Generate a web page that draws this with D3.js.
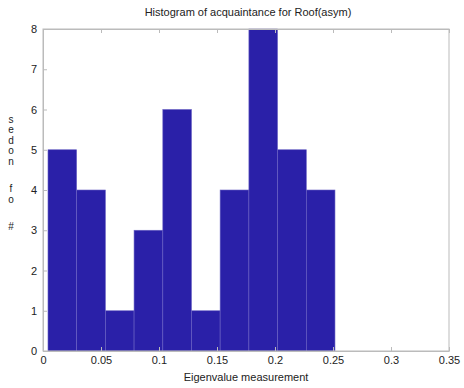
<!DOCTYPE html>
<html><head><meta charset="utf-8">
<script src="https://cdn.jsdelivr.net/npm/d3@7"></script>
<style>body{margin:0;background:#fff}svg{display:block}text{font-family:"Liberation Sans",Arial,sans-serif;fill:#222}</style>
</head><body><div id="c"></div>
<script>
const binEdges = [0.0043,0.0290,0.0538,0.0785,0.1033,0.1280,0.1527,0.1775,0.2022,0.2270,0.2517];
const counts = [5,4,1,3,6,1,4,8,5,4];
const xTicks = [0,0.05,0.1,0.15,0.2,0.25,0.3,0.35];
const xTickLabels = ["0","0.05","0.1","0.15","0.2","0.25","0.3","0.35"];
const yTicks = [0,1,2,3,4,5,6,7,8];
const title = "Histogram of acquaintance for Roof(asym)";
const xLabel = "Eigenvalue measurement";
const yLabel = "# of nodes";

const W=464,H=388;
const m={l:43,r:15,t:29,b:37};
const svg=d3.select("#c").append("svg").attr("width",W).attr("height",H);
const x=d3.scaleLinear().domain([0,0.35]).range([m.l,W-m.r]);
const y=d3.scaleLinear().domain([0,8]).range([H-m.b,m.t]);

const bars=counts.map((c,i)=>({x0:binEdges[i],x1:binEdges[i+1],c}));
svg.append("g").selectAll("rect").data(bars).join("rect")
  .attr("x",d=>x(d.x0)).attr("width",d=>x(d.x1)-x(d.x0))
  .attr("y",d=>y(d.c)).attr("height",d=>y(0)-y(d.c))
  .attr("fill","#2a20a8").attr("stroke","#6a62c4").attr("stroke-width",0.6);

// box
svg.append("rect").attr("x",m.l).attr("y",m.t).attr("width",x(0.35)-m.l).attr("height",y(0)-m.t)
  .attr("fill","none").attr("stroke","#bbb").attr("stroke-width",1);

const axB=d3.axisBottom(x).tickValues(xTicks).tickFormat((d,i)=>xTickLabels[i]).tickSizeInner(-4).tickSizeOuter(0).tickPadding(6);
const gB=svg.append("g").attr("transform",`translate(0,${y(0)})`).call(axB);
const axL=d3.axisLeft(y).tickValues(yTicks).tickFormat(d3.format("d")).tickSizeInner(-4).tickSizeOuter(0).tickPadding(6);
const gL=svg.append("g").attr("transform",`translate(${m.l},0)`).call(axL);
const axT=d3.axisTop(x).tickValues(xTicks).tickFormat("").tickSizeInner(-4).tickSizeOuter(0);
const gT=svg.append("g").attr("transform",`translate(0,${m.t})`).call(axT);
[gB,gL,gT].forEach(g=>{g.select(".domain").attr("stroke","#bbb");g.selectAll(".tick line").attr("stroke","#bbb");
  g.selectAll("text").attr("font-size",11).attr("fill","#222").attr("font-family",'"Liberation Sans",Arial,sans-serif');});
gB.selectAll("text").attr("dy","0.6em");

svg.append("text").attr("x",(m.l+x(0.35))/2+2).attr("y",16).attr("text-anchor","middle").attr("font-size",11).text(title);
svg.append("text").attr("x",(m.l+x(0.35))/2).attr("y",381).attr("text-anchor","middle").attr("font-size",11).text(xLabel);

// stacked y-label (reads bottom-to-top)
const chars=yLabel.split("").reverse();
let yy=120;
const gy=svg.append("g");
chars.forEach(ch=>{
  if(ch===" "){yy+=17;return;}
  gy.append("text").attr("x",11).attr("y",yy).attr("text-anchor","middle").attr("dominant-baseline","middle").attr("font-size",10).text(ch);
  yy+=10.5;
});
</script></body></html>
